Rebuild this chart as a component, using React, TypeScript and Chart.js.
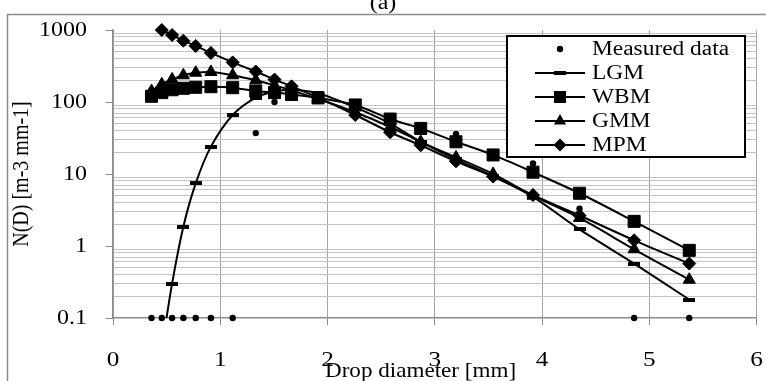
import React, { useEffect, useRef } from 'react';
import { Chart, registerables } from 'chart.js';

Chart.register(...registerables);

// ---- data ----
const diameters = [0.359, 0.455, 0.551, 0.656, 0.771, 0.913, 1.116, 1.331, 1.506, 1.665, 1.912, 2.259, 2.584, 2.869, 3.198, 3.544, 3.916, 4.35, 4.859, 5.373];
const measured = [0.1, 0.1, 0.1, 0.1, 0.1, 0.1, 0.1, 37, 100, 140, 120, 85, 55, 40, 36, 10, 14, 3.3, 0.1, 0.1];
const lgm = [null, 0.038, 0.3, 1.85, 7.4, 24, 66, 115, 140, 148, 132, 84, 50, 28, 16, 9.3, 4.8, 1.7, 0.57, 0.18];
const wbm = [120, 135, 148, 155, 160, 163, 158, 142, 135, 127, 114, 91, 58, 43, 28, 18.4, 10.6, 5.4, 2.2, 0.87];
const gmm = [142, 176, 206, 235, 255, 261, 235, 200, 170, 145, 110, 72, 45, 28, 17, 10, 5.0, 2.45, 0.9, 0.34];
const mpm = [null, 1000, 851, 710, 600, 480, 355, 265, 205, 165, 115, 66, 38, 25, 15, 9.2, 5.1, 2.65, 1.2, 0.57];

const seriesNames = ['Measured data', 'LGM', 'WBM', 'GMM', 'MPM'];
const xTicks = [0, 1, 2, 3, 4, 5, 6];
const yDecades = [0.1, 1, 10, 100, 1000];
const yMinorSteps = [2, 3, 4, 5, 6, 7, 8, 9];

const titleText = '(a)';
const xTitle = 'Drop diameter [mm]';
const yTitle = 'N(D) [m-3 mm-1]';

const FONT = "'Liberation Serif', 'Times New Roman', serif";
const SX = 1.2; // horizontal text stretch

function drawMarker(ctx: CanvasRenderingContext2D, style: string, x: number, y: number) {
  ctx.save();
  ctx.fillStyle = '#000';
  ctx.beginPath();
  if (style === 'circle') {
    ctx.arc(x, y, 3.2, 0, Math.PI * 2);
    ctx.fill();
  } else if (style === 'dash') {
    ctx.fillRect(x - 6, y - 2, 12, 4);
  } else if (style === 'rect') {
    ctx.fillRect(x - 6, y - 6, 12, 12);
  } else if (style === 'triangle') {
    const r = 7;
    ctx.moveTo(x, y - r);
    ctx.lineTo(x + r * Math.cos(Math.PI / 6), y + r / 2);
    ctx.lineTo(x - r * Math.cos(Math.PI / 6), y + r / 2);
    ctx.closePath();
    ctx.fill();
  } else if (style === 'diamond') {
    const r = 6.5;
    ctx.moveTo(x, y - r);
    ctx.lineTo(x + r, y);
    ctx.lineTo(x, y + r);
    ctx.lineTo(x - r, y);
    ctx.closePath();
    ctx.fill();
  }
  ctx.restore();
}

function sText(ctx: CanvasRenderingContext2D, text: string, x: number, y: number, align: CanvasTextAlign, sx: number) {
  ctx.save();
  ctx.translate(x, y);
  ctx.scale(sx, 1);
  ctx.textAlign = align;
  ctx.fillText(text, 0, 0);
  ctx.restore();
}

export default function App() {
  const ref = useRef<HTMLCanvasElement>(null);

  useEffect(() => {
    document.body.style.margin = '0';
    const canvas = ref.current!;

    const dash = document.createElement('canvas');
    dash.width = 12;
    dash.height = 4;
    const dctx = dash.getContext('2d')!;
    dctx.fillStyle = '#000';
    dctx.fillRect(0, 0, 12, 4);

    const pts = (arr: (number | null)[]) => diameters.map((x, i) => ({ x, y: arr[i] }));
    const isDecade = (v: number) => yDecades.includes(v);

    const decor = {
      id: 'decor',
      beforeDraw(chart: any) {
        const ctx = chart.ctx as CanvasRenderingContext2D;
        ctx.save();
        ctx.fillStyle = '#fff';
        ctx.fillRect(0, 0, chart.width, chart.height);
        ctx.strokeStyle = '#8c8c8c';
        ctx.lineWidth = 1.5;
        ctx.beginPath();
        ctx.moveTo(7.5, chart.height);
        ctx.lineTo(7.5, 14.5);
        ctx.lineTo(chart.width, 14.5);
        ctx.stroke();
        ctx.restore();
      },
      afterDraw(chart: any) {
        const ctx = chart.ctx as CanvasRenderingContext2D;
        ctx.save();
        ctx.fillStyle = '#000';

        // tick labels from the library's scales
        const xs = chart.scales.x;
        const ys = chart.scales.y;
        ctx.font = `21px ${FONT}`;
        ctx.textBaseline = 'alphabetic';
        xs.ticks.forEach((t: any) => {
          sText(ctx, String(t.label ?? t.value), xs.getPixelForValue(t.value), 366, 'center', SX);
        });
        ctx.font = `20px ${FONT}`;
        ctx.textBaseline = 'middle';
        ys.ticks.forEach((t: any) => {
          if (!isDecade(t.value)) return;
          sText(ctx, String(t.label), 87, ys.getPixelForValue(t.value) + 1, 'right', SX);
        });

        // titles
        ctx.font = `20px ${FONT}`;
        ctx.textBaseline = 'alphabetic';
        sText(ctx, titleText, 383, 9, 'center', SX);
        ctx.font = `21px ${FONT}`;
        sText(ctx, xTitle, 325, 377, 'left', 1.1);
        ctx.save();
        ctx.font = `20px ${FONT}`;
        ctx.translate(22, 174);
        ctx.rotate(-Math.PI / 2);
        ctx.scale(1, SX);
        ctx.textAlign = 'center';
        ctx.textBaseline = 'middle';
        ctx.fillText(yTitle, 0, 0);
        ctx.restore();

        // legend
        const lx = 507, ly = 36, lw = 238, lh = 121;
        ctx.fillStyle = '#fff';
        ctx.fillRect(lx, ly, lw, lh);
        ctx.strokeStyle = '#000';
        ctx.lineWidth = 2;
        ctx.strokeRect(lx, ly, lw, lh);
        const styles = ['circle', 'dash', 'rect', 'triangle', 'diamond'];
        ctx.font = `20px ${FONT}`;
        ctx.textBaseline = 'middle';
        seriesNames.forEach((name, i) => {
          const y = 49 + i * 24;
          if (i > 0) {
            ctx.strokeStyle = '#000';
            ctx.lineWidth = 2;
            ctx.beginPath();
            ctx.moveTo(535, y);
            ctx.lineTo(585, y);
            ctx.stroke();
          }
          drawMarker(ctx, styles[i], 560, y);
          ctx.fillStyle = '#000';
          sText(ctx, name, 592, y + 1, 'left', 1.17);
        });
        ctx.restore();
      },
    };

    const lineCommon = {
      showLine: true,
      borderColor: '#000',
      backgroundColor: '#000',
      borderWidth: 2,
      pointBackgroundColor: '#000',
      pointBorderColor: '#000',
      pointBorderWidth: 1,
      tension: 0.3,
    };

    const chart = new Chart(canvas, {
      type: 'scatter',
      data: {
        datasets: [
          {
            ...lineCommon,
            label: seriesNames[4],
            data: pts(mpm),
            pointStyle: 'rectRot',
            pointRadius: 6.5,
            order: 0,
            clip: { left: 2, top: 8, right: 2, bottom: 0 },
          },
          {
            ...lineCommon,
            label: seriesNames[3],
            data: pts(gmm),
            pointStyle: 'triangle',
            pointRadius: 7,
            order: 1,
          },
          {
            ...lineCommon,
            label: seriesNames[2],
            data: pts(wbm),
            pointStyle: 'rect',
            pointRadius: 8.5,
            order: 2,
          },
          {
            ...lineCommon,
            label: seriesNames[1],
            data: pts(lgm),
            pointStyle: dash,
            pointRadius: 6,
            order: 3,
            clip: { left: 2, top: 2, right: 2, bottom: 0 },
          },
          {
            label: seriesNames[0],
            data: pts(measured),
            showLine: false,
            pointStyle: 'circle',
            pointRadius: 3.2,
            pointBackgroundColor: '#000',
            pointBorderColor: '#000',
            pointBorderWidth: 0,
            backgroundColor: '#000',
            borderColor: '#000',
            order: 4,
            clip: { left: 6, top: 6, right: 6, bottom: 6 },
          },
        ],
      },
      options: {
        responsive: false,
        animation: false,
        devicePixelRatio: 1,
        layout: { padding: { left: 0, top: 30, right: 7, bottom: 0 } },
        plugins: {
          legend: { display: false },
          tooltip: { enabled: false },
          title: { display: false },
        },
        scales: {
          x: {
            type: 'linear',
            min: 0,
            max: 6,
            afterBuildTicks: (scale: any) => {
              scale.ticks = xTicks.map((v) => ({ value: v }));
            },
            afterFit: (scale: any) => {
              scale.height = 63;
            },
            ticks: {
              display: false,
              autoSkip: false,
              maxRotation: 0,
              callback: (v: any) => String(v),
            },
            grid: {
              color: '#a6a6a6',
              lineWidth: 1,
              tickLength: 7,
              tickColor: '#8c8c8c',
            },
            border: { color: '#8c8c8c', width: 1.5 },
          },
          y: {
            type: 'logarithmic',
            min: 0.1,
            max: 1000,
            afterBuildTicks: (scale: any) => {
              const t: { value: number }[] = [];
              yDecades.forEach((d, i) => {
                t.push({ value: d });
                if (i < yDecades.length - 1) yMinorSteps.forEach((m) => t.push({ value: d * m }));
              });
              scale.ticks = t;
            },
            afterFit: (scale: any) => {
              scale.width = 113;
            },
            ticks: {
              display: false,
              autoSkip: false,
              callback: (v: any) => (isDecade(Number(v)) ? String(v) : ''),
            },
            grid: {
              color: (c: any) => (c.tick && isDecade(c.tick.value) ? 'rgba(0,0,0,0)' : '#c4c4c4'),
              tickColor: (c: any) => (c.tick && isDecade(c.tick.value) ? '#8c8c8c' : 'rgba(0,0,0,0)'),
              lineWidth: 1,
              tickLength: 7,
            },
            border: { color: '#8c8c8c', width: 1.5 },
          },
        },
      },
      plugins: [decor],
    } as any);

    return () => chart.destroy();
  }, []);

  return (
    <div style={{ width: 766, height: 381 }}>
      <canvas ref={ref} width={766} height={381} style={{ display: 'block' }} />
    </div>
  );
}
